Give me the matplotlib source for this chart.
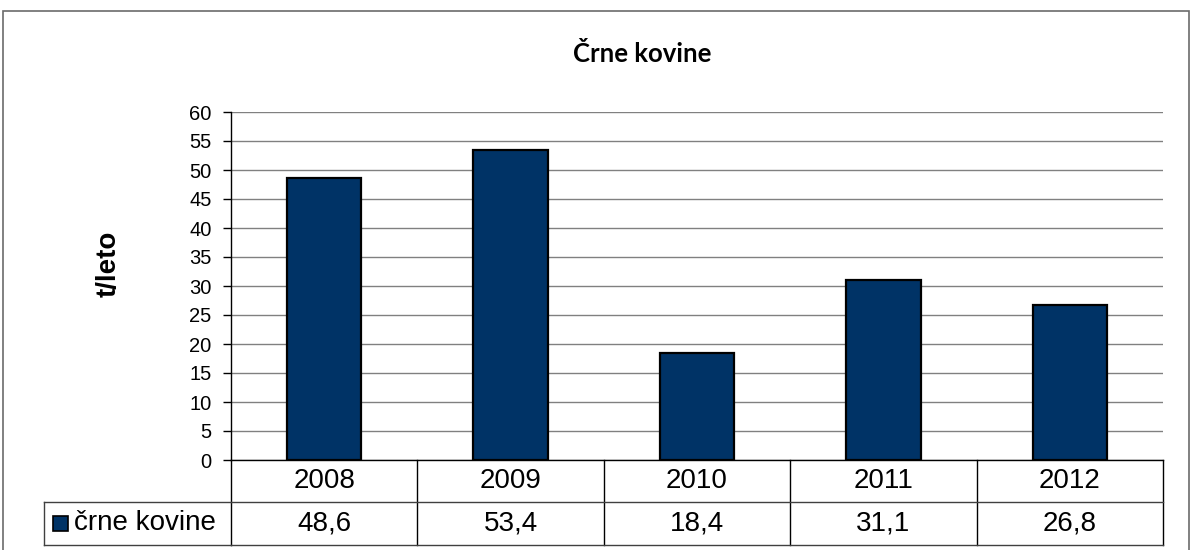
import matplotlib.pyplot as plt
import matplotlib.transforms as mtransforms
from matplotlib.patches import Rectangle

plt.rcParams['font.family'] = ['Liberation Sans', 'DejaVu Sans']

# letne količine črnih kovin (t/leto)
leta = ['2008', '2009', '2010', '2011', '2012']
crne_kovine = [48.6, 53.4, 18.4, 31.1, 26.8]
serija = 'črne kovine'
naslov = 'Črne kovine'
enota = 't/leto'

BAR_COLOR = '#003366'
W, H = 1190, 550


def fy(py):
    # piksel od zgoraj -> delež slike
    return 1 - py / H


fig = plt.figure(figsize=(W / 100, H / 100), dpi=100)
fig.patch.set_facecolor('white')

# okvir grafa
fig.add_artist(Rectangle((3 / W, fy(600)), 1186 / W, (600 - 11) / H,
                         transform=fig.transFigure, fill=False,
                         edgecolor='#6b6b6b', lw=1.2))

ax = fig.add_axes([231 / W, fy(460), (1163 - 231) / W, (460 - 112) / H])
x = list(range(len(leta)))
ax.bar(x, crne_kovine, width=0.4, color=BAR_COLOR, edgecolor='black',
       linewidth=1.6, zorder=3)

ax.set_xlim(-0.5, len(leta) - 0.5)
ax.set_ylim(0, 60)
ax.set_yticks(range(0, 61, 5))
ax.set_xticks([])
ax.tick_params(axis='y', length=6, width=1, labelsize=14.5, pad=8, colors='black')
ax.yaxis.grid(True, color='#808080', lw=1, zorder=0)
for s in ['top', 'right']:
    ax.spines[s].set_visible(False)
ax.spines['left'].set_color('black')
ax.spines['bottom'].set_color('black')
ax.spines['left'].set_linewidth(1)
ax.spines['bottom'].set_linewidth(1)

fig.text(642 / W, fy(54), naslov, ha='center', va='center',
         fontsize=18.5, fontweight='bold', family=['Lato', 'DejaVu Sans'])
fig.text(109 / W, fy(264), enota, ha='center', va='center', rotation=90,
         fontsize=20, fontweight='bold')

# podatkovna tabela pod grafom
tr = mtransforms.blended_transform_factory(ax.transData, fig.transFigure)
y_top, y_mid, y_bot = fy(460), fy(502), fy(545)
x0, x1 = -0.5, len(leta) - 0.5

for i in range(len(leta) + 1):
    ax.plot([x0 + i, x0 + i], [y_top, y_bot], color='black', lw=1,
            transform=tr, clip_on=False)
for yy in (y_mid, y_bot):
    ax.plot([x0, x1], [yy, yy], color='#404040', lw=1, transform=tr, clip_on=False)
# celica z legendo
fig.add_artist(plt.Line2D([44 / W, 231 / W], [y_mid, y_mid], color='#404040', lw=1))
fig.add_artist(plt.Line2D([44 / W, 231 / W], [y_bot, y_bot], color='#404040', lw=1))
fig.add_artist(plt.Line2D([44 / W, 44 / W], [y_mid, y_bot], color='#404040', lw=1))
fig.add_artist(Rectangle((53 / W, fy(531)), 15 / W, 15 / H, transform=fig.transFigure,
                         facecolor=BAR_COLOR, edgecolor='black', lw=1.2))
fig.text(74 / W, fy(523), serija, ha='left', va='center', fontsize=20)

for i, (leto, v) in enumerate(zip(leta, crne_kovine)):
    ax.text(i, fy(481), leto, ha='center', va='center', fontsize=20,
            transform=tr)
    ax.text(i, fy(523), f'{v:.1f}'.replace('.', ','), ha='center', va='center',
            fontsize=20, transform=tr)

fig.savefig('out.png', dpi=100)
